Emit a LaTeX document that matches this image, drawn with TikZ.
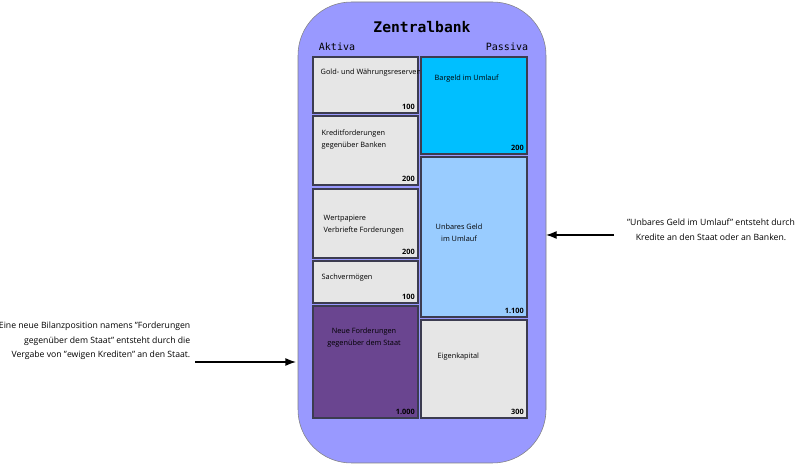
\documentclass[tikz,border=0pt]{standalone}
\usepackage{fontspec}
\setmainfont{Open Sans}
\setmonofont{DejaVu Sans Mono}
\usetikzlibrary{arrows.meta}
\definecolor{bankbg}{HTML}{9999FF}
\definecolor{posgray}{HTML}{E6E6E6}
\definecolor{bargeld}{HTML}{00BFFF}
\definecolor{unbar}{HTML}{99CCFF}
\definecolor{neu}{HTML}{6A4590}
\definecolor{edge}{HTML}{3C3C50}
\begin{document}
\begin{tikzpicture}[x=0.75pt,y=-0.75pt,
item/.style={draw=edge,line width=0.8pt},
lbl/.style={font=\fontsize{5.5}{9}\selectfont,align=left,anchor=west},
val/.style={font=\fontsize{5.5}{7}\selectfont\bfseries,anchor=south east,inner sep=2pt},
note/.style={font=\fontsize{6.5}{11}\selectfont},
head/.style={font=\ttfamily\fontsize{7.5}{9}\selectfont},
]
\useasboundingbox(0,0)rectangle(800,466);
%bank
\draw[fill=bankbg,draw=gray,rounded corners=40](298,2)rectangle(546,463);
\node[head,font=\ttfamily\bfseries\fontsize{11}{13}\selectfont](title)at(422,27){Zentralbank};
\node[head](aktiva)at(337,47){Aktiva};
\node[head](passiva)at(507,47){Passiva};

%aktiva
\draw[item,fill=posgray](313,57)rectangle(418,113)node[val]{100};
\node[lbl]at(316,73){Gold- und W\"ahrungsreserven};
\draw[item,fill=posgray](313,116)rectangle(418,185)node[val]{200};
\node[lbl]at(317,140){Kreditforderungen\\gegen\"uber Banken};
\draw[item,fill=posgray](313,189)rectangle(418,258)node[val]{200};
\node[lbl]at(319,225){Wertpapiere\\Verbriefte Forderungen};
\draw[item,fill=posgray](313,261)rectangle(418,303)node[val]{100};
\node[lbl]at(317,278){Sachverm\"ogen};
\draw[item,fill=neu](313,306)rectangle(418,418)node[val]{1.000};
\node[lbl,align=center,anchor=center]at(364,338){Neue Forderungen\\gegen\"uber dem Staat};

%passiva
\draw[item,fill=bargeld](421,57)rectangle(527,154)node[val]{200};
\node[lbl]at(430,79){Bargeld im Umlauf};
\draw[item,fill=unbar](421,157)rectangle(527,317)node[val]{1.100};
\node[lbl,align=center,anchor=center]at(459,233){Unbares Geld\\im Umlauf};
\draw[item,fill=posgray](421,320)rectangle(527,418)node[val]{300};
\node[lbl]at(433,357){Eigenkapital};

%notes
\node[note,align=right,anchor=east](staat)at(195,341){Eine neue Bilanzposition namens "Forderungen\\gegen\"uber dem Staat" entsteht durch die\\Vergabe von "ewigen Krediten" an den Staat.};
\coordinate(staatend)at(296,362);
\draw[-{Latex[length=8pt,width=6pt]},line width=1pt](195,362)--(staatend);
\node[note,align=center](unbares)at(711,230){"Unbares Geld im Umlauf" entsteht durch\\Kredite an den Staat oder an Banken.};
\coordinate(unbaresend)at(546,235);
\draw[-{Latex[length=8pt,width=6pt]},line width=1pt](614,235)--(unbaresend);
\end{tikzpicture}
\end{document}
